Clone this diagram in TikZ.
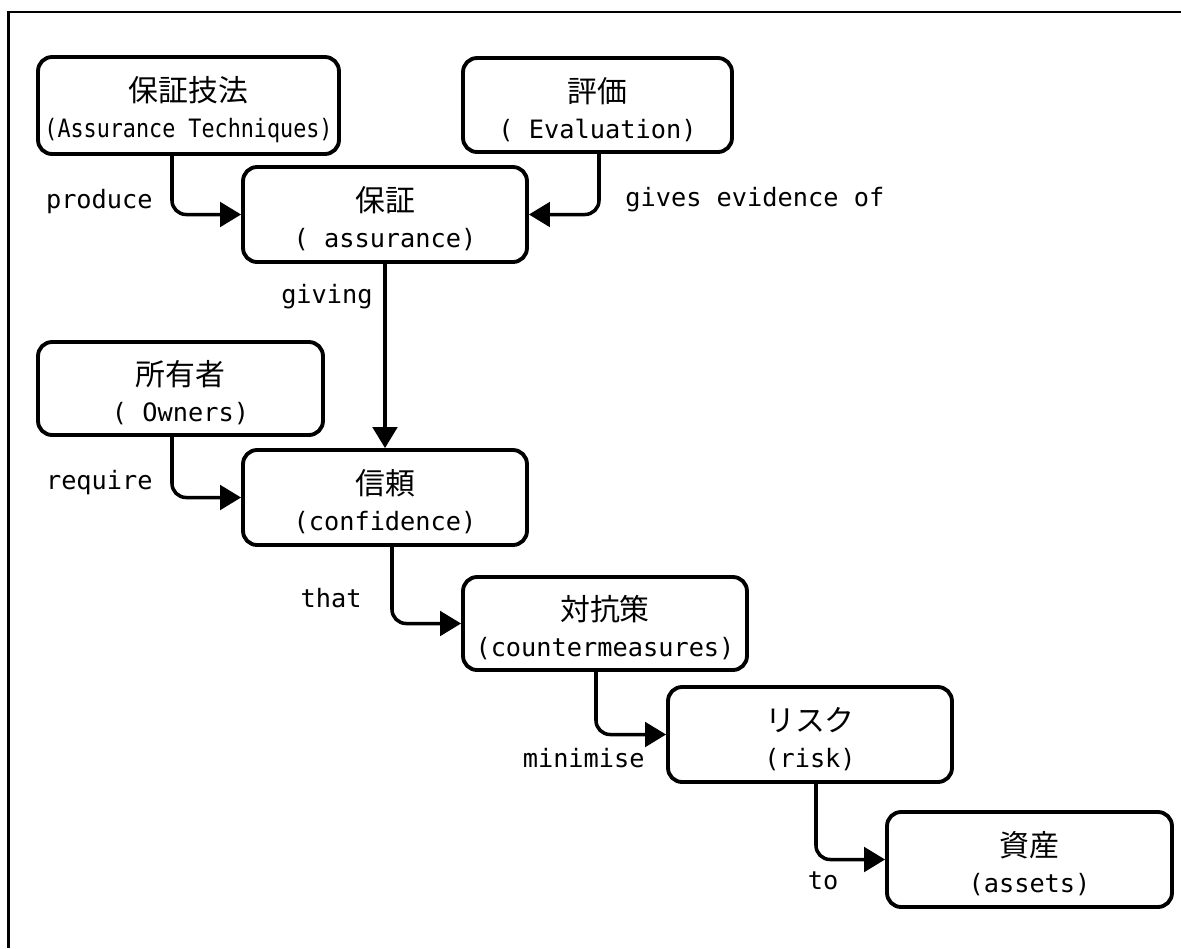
\documentclass[tikz,border=0pt]{standalone}
\usepackage{fontspec}
\setmonofont{DejaVu Sans Mono}
\newfontfamily\jpfont{Noto Sans CJK JP}
\usetikzlibrary{arrows.meta, calc}
\newcommand{\jtitle}[1]{{\jpfont\fontsize{17pt}{20pt}\selectfont\rule{0pt}{19.5pt}#1}}
\tikzset{%
	box/.style={draw, line width=2.2pt, rounded corners=8pt, minimum width=5.68cm,%
		minimum height=1.9cm, inner sep=0pt, align=center,%
		font=\ttfamily\fontsize{14.4pt}{20.5pt}\selectfont},
	lbl/.style={inner sep=0pt, font=\ttfamily\fontsize{14.4pt}{20pt}\selectfont},
	flow/.style={line width=2pt, rounded corners=8pt, -{Triangle[length=12pt, width=14pt]}},
	frame/.style={line width=1.4pt}
}
\begin{document}
\begin{tikzpicture}[x=0.02cm, y=-0.02cm]
	\useasboundingbox (0,0) rectangle (1181,948);
	\draw[frame] (8.5,948) -- (8.5,12) -- (1181,12);

	% boxes
	\node[box, minimum width=6.02cm, minimum height=1.94cm] (tech) at (188.5,105.5)
		{\jtitle{保証技法}\\\scalebox{0.86}[1]{(Assurance Techniques)}};
	\node[box, minimum width=5.38cm, minimum height=1.88cm] (eval) at (597.5,105)
		{\jtitle{評価}\\( Evaluation)};
	\node[box] (assur) at (385,214.5) {\jtitle{保証}\\( assurance)};
	\node[box, minimum width=5.7cm, minimum height=1.86cm] (owner) at (180.5,388.5)
		{\jtitle{所有者}\\( Owners)};
	\node[box] (conf) at (385,497.5) {\jtitle{信頼}\\(confidence)};
	\node[box, minimum height=1.86cm] (counter) at (605,623.5)
		{\jtitle{対抗策}\\(countermeasures)};
	\node[box] (risk) at (810,734.5) {\jtitle{リスク}\\(risk)};
	\node[box, minimum width=5.7cm] (asset) at (1029.5,859.5) {\jtitle{資産}\\(assets)};

	% labels
	\node[lbl, anchor=east] (produce) at (153,202) {produce};
	\node[lbl, anchor=west] (evidence) at (625,200) {gives evidence of};
	\node[lbl, anchor=east] (giving) at (373,297) {giving};
	\node[lbl, anchor=east] (require) at (153,483) {require};
	\node[lbl, anchor=east] (that) at (362,598) {that};
	\node[lbl, anchor=east] (minimise) at (645,758) {minimise};
	\node[lbl] (to) at (823,881) {to};

	% connectors
	\draw[flow] ($(tech.south)+(-16.5,0)$) |- (assur.west);
	\draw[flow] ($(eval.south)+(1.5,0)$) |- (assur.east);
	\draw[flow] (assur.south) -- (conf.north);
	\draw[flow] ($(owner.south)+(-8.5,0)$) |- (conf.west);
	\draw[flow] ($(conf.south)+(7,0)$) |- (counter.west);
	\draw[flow] ($(counter.south)+(-9,0)$) |- (risk.west);
	\draw[flow] ($(risk.south)+(6,0)$) |- (asset.west);
\end{tikzpicture}
\end{document}
